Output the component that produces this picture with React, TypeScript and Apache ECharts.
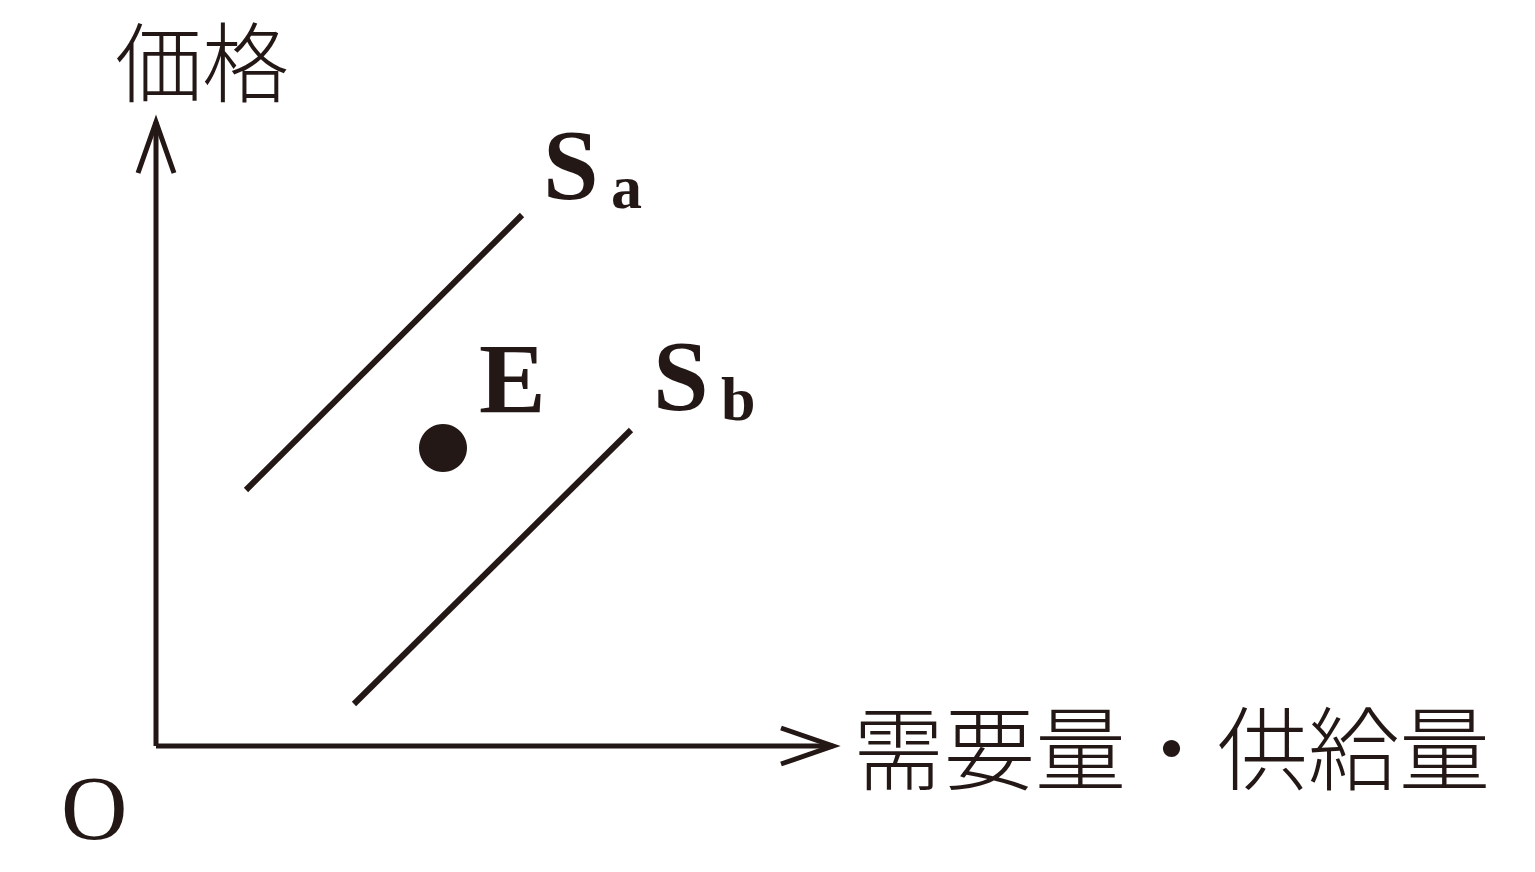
import React, { useEffect, useRef } from "react";
import * as echarts from "echarts";

const INK = "#231815";

// Diagram coordinates (origin O at the axes' corner)
const yAxisLine = [[0, 0], [0, 624]];
const yArrowHead = [[-18, 573], [0, 624], [18, 573]];
const xAxisLine = [[0, 0], [677, 0]];
const xArrowHead = [[625, 18], [677, 0], [625, -18]];
const supplyA = [[90, 256], [366, 531]];
const supplyB = [[198, 42], [475, 316]];
const equilibrium = [[287, 298]];

const yAxisTitle = "価格";
const xAxisTitle = "需要量・供給量";
const originLabel = "O";
const pointLabel = "E";

const lineSeries = (data: number[][], width: number) => ({
  type: "line",
  data,
  clip: false,
  showSymbol: false,
  symbol: "none",
  lineStyle: { color: INK, width, cap: "butt", join: "miter", opacity: 1 },
  silent: true,
});

export default function App() {
  const ref = useRef<HTMLDivElement>(null);
  useEffect(() => {
    if (!ref.current) return;
    const chart = echarts.init(ref.current, null, { renderer: "svg" });
    const serif = "'Liberation Serif', 'DejaVu Serif', serif";
    const cjk = "'Noto Sans CJK JP', sans-serif";
    const txt = (x: number, y: number, text: string, font: string, size: number) => ({
      type: "text",
      x,
      y,
      style: {
        text,
        font: `${font} ${size}px ${font.includes("300") ? cjk : serif}`,
        lineHeight: size,
        fill: INK,
        verticalAlign: "middle",
        align: "left",
      },
    });
    chart.setOption({
      animation: false,
      backgroundColor: "#ffffff",
      grid: { left: 106, top: 46, width: 750, height: 750, show: false },
      xAxis: { type: "value", min: -50, max: 700, show: false },
      yAxis: { type: "value", min: -50, max: 700, show: false },
      series: [
        lineSeries(yAxisLine, 5),
        lineSeries(yArrowHead, 5),
        lineSeries(xAxisLine, 5),
        lineSeries(xArrowHead, 5),
        lineSeries(supplyA, 6),
        lineSeries(supplyB, 6),
        {
          type: "scatter",
          data: equilibrium,
          clip: false,
          symbol: "circle",
          symbolSize: 48,
          itemStyle: { color: INK, opacity: 1 },
          silent: true,
        },
      ],
      graphic: [
        txt(115, 58, yAxisTitle, "300", 87),
        txt(853, 743, xAxisTitle, "300", 91),
        txt(61, 808, originLabel, "normal", 92),
        txt(479, 378, pointLabel, "bold", 100),
        txt(543, 164, "S", "bold", 100),
        txt(611, 187, "a", "bold", 62),
        txt(653, 375, "S", "bold", 100),
        txt(721, 399, "b", "bold", 62),
      ],
    });
    return () => chart.dispose();
  }, []);
  return (
    <div
      ref={ref}
      style={{ position: "fixed", left: 0, top: 0, width: 1535, height: 872 }}
    />
  );
}
